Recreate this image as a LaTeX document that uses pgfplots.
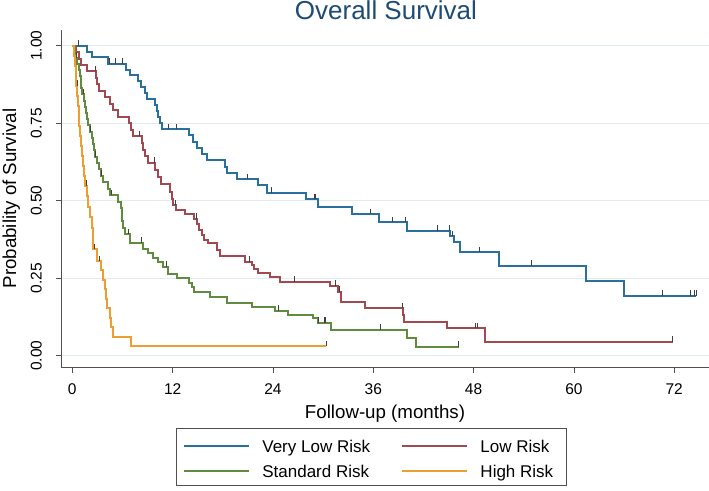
\documentclass[border=0pt]{standalone}
\usepackage{fontspec}
\setmainfont{Liberation Sans}
\usepackage{pgfplots}
\pgfplotsset{compat=1.18}
\definecolor{cblue}{RGB}{42,112,158}
\definecolor{cred}{RGB}{162,72,80}
\definecolor{cgreen}{RGB}{95,140,62}
\definecolor{corange}{RGB}{238,158,48}
\definecolor{ctitle}{RGB}{30,75,115}
\definecolor{cgrid}{RGB}{226,235,241}
\definecolor{caxis}{RGB}{80,80,80}
\pgfdeclareplotmark{cens}{\pgfpathmoveto{\pgfqpoint{0pt}{0pt}}\pgfpathlineto{\pgfqpoint{0pt}{5.5pt}}\pgfusepathqstroke}
\begin{document}
\begin{tikzpicture}[x=1pt,y=1pt]
\useasboundingbox (0,0) rectangle (709,490);
\begin{axis}[
  at={(61pt,123pt)}, anchor=south west,
  scale only axis, width=648pt, height=337pt,
  xmin=-1.352, xmax=76.16, ymin=-0.0365, ymax=1.0506,
  axis x line=bottom, axis y line=left,
  axis line style={-, draw=caxis, line width=0.8pt},
  tick align=outside, major tick length=5.5pt,
  tick style={draw=caxis, line width=0.8pt},
  xtick={0,12,24,36,48,60,72},
  xticklabels={0,12,24,36,48,60,72},
  ytick={0,0.25,0.5,0.75,1},
  yticklabels={0.00,0.25,0.50,0.75,1.00},
  ymajorgrids, major grid style={draw=cgrid, line width=0.9pt},
  xticklabel style={font=\fontsize{15.5}{18}\selectfont, inner sep=0pt, anchor=north, yshift=-11pt},
  yticklabel style={font=\fontsize{15.5}{18}\selectfont, inner sep=0pt, rotate=90, anchor=south, yshift=13.5pt},
  title={Overall Survival},
  title style={at={(axis description cs:0.5015,1.012)}, anchor=base, font=\fontsize{26}{30}\selectfont, text=ctitle},
  xlabel={Follow-up (months)},
  ylabel={Probability of Survival},
  every axis x label/.style={at={(axis description cs:0.5,-0.1543)}, anchor=base, font=\fontsize{18.7}{22}\selectfont},
  every axis y label/.style={at={(axis description cs:-0.0694,0.5)}, rotate=90, anchor=base, font=\fontsize{18.7}{22}\selectfont},
  legend columns=2,
  legend image code/.code={\draw[#1, line width=2pt] (0pt,6pt) -- (65pt,6pt);},
  legend style={at={(axis description cs:0.1775,-0.181)}, anchor=north west,
    draw=caxis, line width=0.7pt, fill=white,
    inner xsep=7pt, inner ysep=6.4pt,
    font=\fontsize{17}{20}\selectfont, row sep=11.3pt,
    nodes={inner sep=0pt, anchor=base west},
    /tikz/every odd column/.append style={column sep=12pt},
    /tikz/every even column/.append style={column sep=31.4pt}},
]
% Very Low Risk
\addplot[const plot, cblue, line width=2pt] coordinates {
(0,1.000) (1.7,0.981) (2.3,0.962) (4.3,0.942) (6.39,0.923) (6.9,0.904) (7.89,0.885) (8.18,0.866) (8.7,0.846) (8.97,0.827) (9.89,0.808) (10.17,0.789) (10.29,0.770) (10.5,0.750) (10.69,0.731) (13.9,0.711) (14.4,0.690) (14.9,0.670) (15.5,0.651) (16.1,0.631) (18.3,0.610) (18.5,0.590) (19.7,0.569) (22.2,0.551) (23.3,0.526) (28.0,0.505) (29.4,0.481) (33.4,0.457) (36.7,0.431) (40.0,0.403) (45.2,0.386) (45.6,0.368) (46.4,0.333) (51.0,0.290) (61.4,0.242) (66.0,0.194) (74.6,0.194)};
\addlegendentry{\rule{0pt}{17.5pt}Very Low Risk}
% Low Risk
\addplot[const plot, cred, line width=2pt] coordinates {
(0,1.000) (0.5,0.979) (0.8,0.958) (1.1,0.938) (1.7,0.917) (2.85,0.896) (3.0,0.875) (3.2,0.855) (3.9,0.834) (4.5,0.813) (4.9,0.792) (5.5,0.771) (6.8,0.750) (7.0,0.729) (7.3,0.708) (8.3,0.686) (8.5,0.665) (8.7,0.643) (9.1,0.622) (9.9,0.600) (10.3,0.578) (10.6,0.555) (11.7,0.529) (11.9,0.507) (12.1,0.486) (12.4,0.470) (13.5,0.457) (14.5,0.442) (14.9,0.424) (15.1,0.404) (15.5,0.388) (15.8,0.373) (16.2,0.362) (17.3,0.342) (17.7,0.322) (20.7,0.303) (21.5,0.292) (21.7,0.281) (22.2,0.266) (23.7,0.253) (24.8,0.239) (30.8,0.225) (31.8,0.206) (32.1,0.190) (32.2,0.174) (35.0,0.153) (39.6,0.132) (39.7,0.110) (44.8,0.088) (49.4,0.045) (71.8,0.045)};
\addlegendentry{\rule{0pt}{17.5pt}Low Risk}
% Standard Risk
\addplot[const plot, cgreen, line width=2pt] coordinates {
(0,1.000) (0.3,0.980) (0.45,0.961) (0.6,0.941) (0.75,0.922) (0.9,0.902) (1.0,0.882) (1.1,0.863) (1.2,0.843) (1.4,0.823) (1.5,0.803) (1.6,0.783) (1.7,0.763) (1.9,0.743) (2.1,0.723) (2.3,0.703) (2.45,0.683) (2.6,0.662) (2.75,0.642) (2.9,0.621) (3.2,0.601) (3.45,0.580) (3.7,0.559) (4.3,0.538) (4.5,0.517) (5.5,0.496) (5.8,0.475) (5.9,0.454) (6.0,0.433) (6.1,0.412) (6.3,0.391) (6.9,0.365) (8.5,0.345) (9.1,0.330) (9.7,0.316) (10.3,0.302) (10.9,0.287) (11.5,0.264) (12.5,0.250) (13.9,0.236) (14.3,0.222) (14.5,0.205) (16.5,0.190) (18.5,0.171) (21.5,0.157) (24.2,0.145) (25.8,0.131) (28.8,0.120) (29.4,0.106) (31.0,0.083) (40.0,0.057) (41.1,0.029) (46.2,0.029)};
\addlegendentry{Standard Risk}
% High Risk
\addplot[const plot, corange, line width=2pt] coordinates {
(0,1.000) (0.2,0.968) (0.3,0.935) (0.4,0.903) (0.5,0.871) (0.6,0.839) (0.7,0.806) (0.75,0.774) (0.85,0.742) (0.95,0.710) (1.0,0.677) (1.2,0.645) (1.3,0.613) (1.4,0.581) (1.5,0.548) (1.75,0.514) (1.9,0.480) (2.1,0.446) (2.3,0.412) (2.45,0.378) (2.5,0.343) (2.9,0.305) (3.4,0.275) (3.65,0.244) (3.9,0.214) (4.05,0.183) (4.2,0.153) (4.45,0.122) (4.65,0.092) (4.9,0.061) (7.0,0.031) (30.4,0.031)};
\addlegendentry{High Risk\hspace{6.6pt}\mbox{}}
% censoring marks
\addplot[only marks, mark=cens, mark options={draw=black!75, line width=0.8pt}, forget plot] coordinates {
(0.7,1.000) (4.45,0.942) (5.1,0.942) (6.0,0.942) (11.5,0.731) (12.5,0.731) (20.9,0.569) (23.8,0.526) (28.9,0.505) (29.1,0.505) (35.7,0.457) (38.3,0.431) (39.8,0.431) (43.7,0.403) (45.1,0.403) (45.5,0.386) (48.7,0.333) (54.9,0.290) (70.6,0.194) (73.9,0.194) (74.4,0.194) (74.6,0.194)};
\addplot[only marks, mark=cens, mark options={draw=black!75, line width=0.8pt}, forget plot] coordinates {
(2.8,0.917) (8.0,0.708) (9.8,0.622) (12.3,0.486) (14.8,0.442) (21.2,0.303) (26.6,0.239) (31.5,0.225) (32.0,0.206) (39.5,0.153) (48.2,0.088) (48.4,0.088) (71.8,0.045)};
\addplot[only marks, mark=cens, mark options={draw=black!75, line width=0.8pt}, forget plot] coordinates {
(0.5,0.961) (1.3,0.843) (2.2,0.723) (2.8,0.642) (3.5,0.580) (4.7,0.517) (6.7,0.391) (8.3,0.365) (11.3,0.287) (24.6,0.145) (29.45,0.106) (30.1,0.106) (30.3,0.106) (36.8,0.083) (46.2,0.029)};
\addplot[only marks, mark=cens, mark options={draw=black!75, line width=0.8pt}, forget plot] coordinates {
(0.55,0.871) (1.65,0.548) (2.7,0.343) (3.2,0.305) (30.4,0.031)};
\end{axis}
\end{tikzpicture}
\end{document}
